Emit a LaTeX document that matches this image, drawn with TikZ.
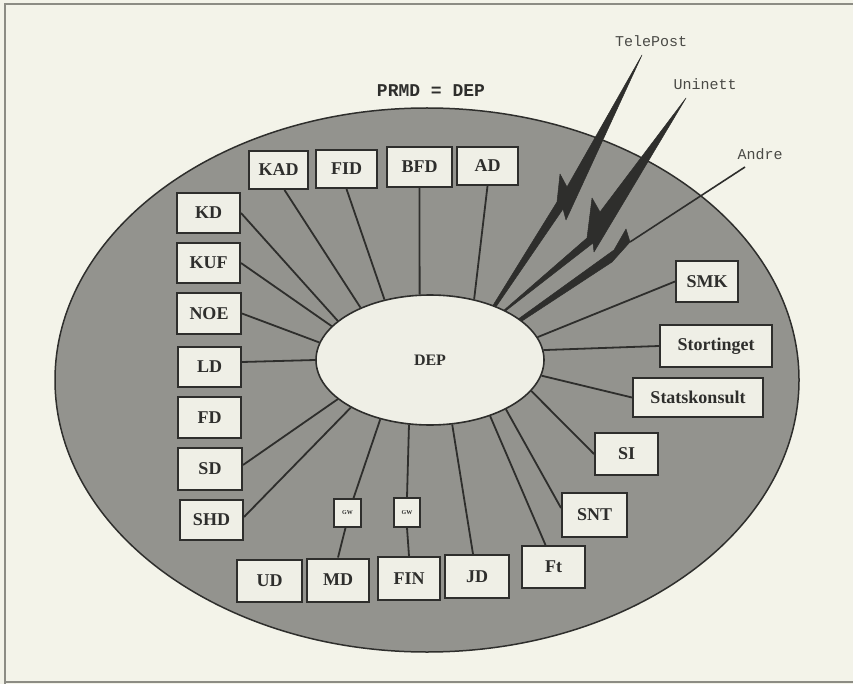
\documentclass[tikz,border=0pt]{standalone}
\usepackage{fontspec}
\setmainfont{Liberation Serif}
\setmonofont{Liberation Mono}
\usetikzlibrary{shapes.geometric}
\definecolor{paper}{HTML}{F3F3E9}
\definecolor{disc}{HTML}{93938E}
\definecolor{boxfill}{HTML}{EFEFE6}
\definecolor{ink}{HTML}{2E2E2C}
\definecolor{framecol}{HTML}{8C8C84}
\definecolor{faint}{HTML}{4A4A46}
\tikzset{
  dept/.style={draw=ink, line width=2pt, fill=boxfill, inner sep=0pt,
    font=\bfseries\fontsize{18}{18}\selectfont, text=ink},
  sz/.style 2 args={minimum width=#1pt, minimum height=#2pt},
  gwbox/.style={draw=ink, line width=1.6pt, fill=boxfill, inner sep=0pt,
    font=\bfseries\fontsize{6}{6}\selectfont, text=ink},
  link/.style={draw=ink, line width=1.8pt},
  bolt/.style={fill=ink, draw=ink, line width=0.5pt, line join=round},
  boltline/.style={draw=ink, line width=1.6pt},
  net/.style={font=\ttfamily\fontsize{15}{15}\selectfont, text=faint},
}
\begin{document}
\begin{tikzpicture}[x=1pt, y=-1pt]
\useasboundingbox (0,0) rectangle (853,684);
\fill[paper] (0,0) rectangle (853,684);
% frame
\draw[framecol, line width=1.5pt] (5,684) -- (5,4) -- (853,4);
\draw[framecol, line width=1.2pt] (5,682) -- (853,682);
% big disc
\draw[ink, line width=1.5pt, fill=disc] (427,380) ellipse [x radius=372pt, y radius=272pt];
% title and networks
\node[font=\ttfamily\bfseries\fontsize{18}{18}\selectfont, text=ink] (title) at (431,91) {PRMD = DEP};
\node[net] (tp) at (651,41) {TelePost};
\node[net] (un) at (705,84) {Uninett};
\node[net] (an) at (760,154) {Andre};
% centre
\node[ellipse, draw=ink, line width=1.6pt, fill=boxfill, minimum width=228pt,
  minimum height=130pt, inner sep=0pt, font=\bfseries\fontsize{16}{16}\selectfont, text=ink]
  (dep) at (430,360) {DEP};
% top row
\node[dept, sz={59}{38}] (kad) at (278.5,170) {KAD};
\node[dept, sz={61}{38}] (fid) at (346.5,169) {FID};
\node[dept, sz={65}{40}] (bfd) at (419.5,167) {BFD};
\node[dept, sz={61}{38}] (ad) at (487.5,166) {AD};
% left column
\node[dept, sz={63}{40}] (kd) at (208.5,213) {KD};
\node[dept, sz={63}{40}] (kuf) at (208.5,263) {KUF};
\node[dept, sz={64}{41}] (noe) at (209,313.5) {NOE};
\node[dept, sz={63}{40}] (ld) at (209.5,367) {LD};
\node[dept, sz={63}{41}] (fd) at (209.5,417.5) {FD};
\node[dept, sz={64}{42}] (sd) at (210,469) {SD};
\node[dept, sz={63}{40}] (shd) at (211.5,520) {SHD};
% bottom row
\node[dept, sz={65}{42}] (ud) at (269.5,581) {UD};
\node[dept, sz={62}{43}] (md) at (338,580) {MD};
\node[dept, sz={62}{43}] (fin) at (409,578.5) {FIN};
\node[dept, sz={64}{43}] (jd) at (477,576.5) {JD};
\node[dept, sz={63}{42}] (ft) at (553.5,567) {Ft};
\node[gwbox, sz={27}{28}] (gw1) at (347.5,513) {GW};
\node[gwbox, sz={26}{29}] (gw2) at (407,512.5) {GW};
% right side
\node[dept, sz={65}{44}] (snt) at (594.5,515) {SNT};
\node[dept, sz={63}{42}] (si) at (626.5,454) {SI};
\node[dept, sz={130}{39}] (sk) at (698,397.5) {Statskonsult};
\node[dept, sz={112}{42}] (st) at (716,346) {Stortinget};
\node[dept, sz={62}{41}] (smk) at (707,281.5) {SMK};
% connectors
\draw[link] ([xshift=6pt]kad.south) -- (dep.143);
\draw[link] (fid.south) -- (dep.127);
\draw[link] (bfd.south) -- (dep.99);
\draw[link] (ad.south) -- (dep.54);
\draw[link] (kd.east) -- (dep.157);
\draw[link] (kuf.east) -- (dep.161);
\draw[link] (noe.east) -- (dep.171);
\draw[link] ([yshift=5pt]ld.east) -- (dep.180);
\draw[link] ([yshift=4pt]sd.east) -- (dep.203);
\draw[link] ([yshift=3pt]shd.east) -- (dep.211);
\draw[link] (dep.230) -- ([xshift=6pt]gw1.north);
\draw[link] ([xshift=-2pt]gw1.south) -- (md.north);
\draw[link] (dep.252) -- (gw2.north);
\draw[link] (gw2.south) -- (fin.north);
\draw[link] (dep.289.5) -- ([xshift=-4pt]jd.north);
\draw[link] (dep.317.5) -- ([xshift=-8pt]ft.north);
\draw[link] (dep.327) -- ([yshift=7pt]snt.west);
\draw[link] (dep.343.6) -- (si.west);
\draw[link] (dep.352.4) -- (sk.west);
\draw[link] (dep.5.6) -- (st.west);
\draw[link] (dep.12.8) -- (smk.west);
% lightning bolts: TelePost
\coordinate (tpT) at (642,55);
\coordinate (tpL) at (567,187);
\coordinate (tpS) at (560,174);
\coordinate (tpK) at (557,202);
\coordinate (tpR) at (563,209);
\coordinate (tpP) at (566,220);
\fill[bolt] (tpT) -- (tpL) -- (tpS) -- (tpK) -- (dep.41) -- (dep.39.5) -- (tpR) -- (tpP) -- cycle;
% Uninett
\coordinate (unT) at (686,98);
\coordinate (unL) at (600,212);
\coordinate (unS) at (592,198);
\coordinate (unK) at (587,238);
\coordinate (unR) at (593,243);
\coordinate (unP) at (594,252);
\fill[bolt] (unT) -- (unL) -- (unS) -- (unK) -- (dep.34.5) -- (dep.33) -- (unR) -- (unP) -- cycle;
% Andre
\coordinate (anT) at (745,167);
\coordinate (anQ) at (630,242);
\coordinate (anS) at (626,229);
\coordinate (anK) at (614,250);
\coordinate (anP) at (612,262);
\draw[boltline] (anT) -- (anQ);
\fill[bolt] (anS) -- (anK) -- (dep.25) -- (dep.23.5) -- (anP) -- (anQ) -- cycle;
\end{tikzpicture}
\end{document}
